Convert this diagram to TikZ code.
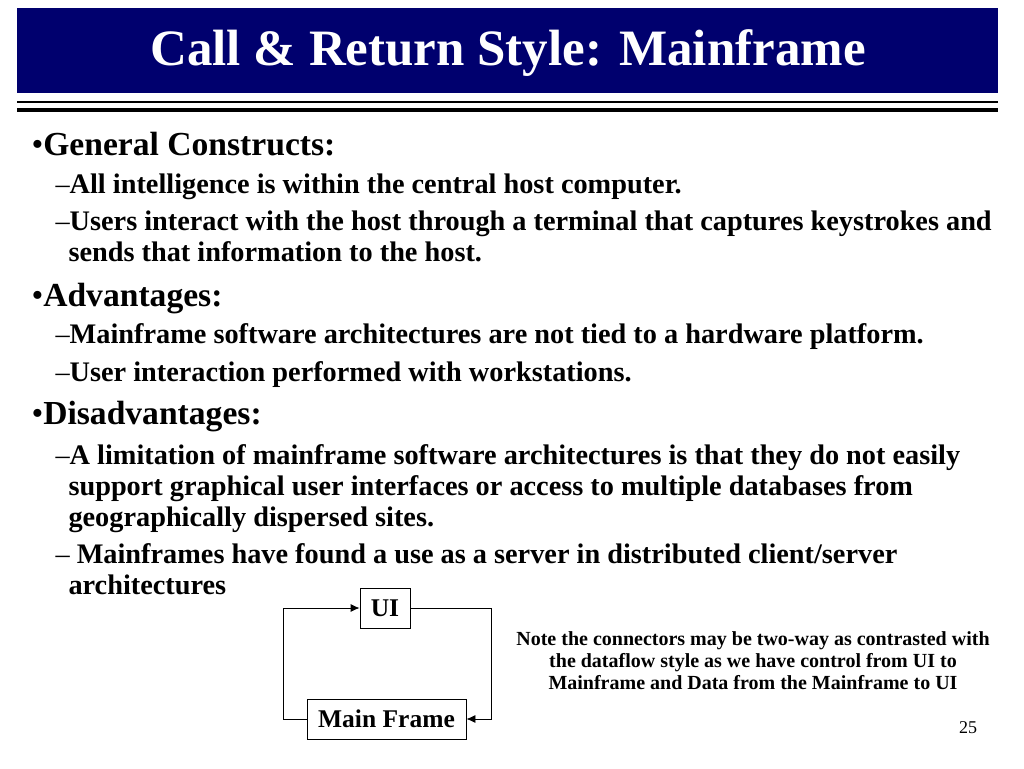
\documentclass[tikz,border=0pt]{standalone}
\usepackage{fontspec}
\setmainfont{Liberation Serif}
\usetikzlibrary{positioning,arrows.meta}
\definecolor{navy}{RGB}{0,0,110}
\begin{document}
\begin{tikzpicture}[x=1pt,y=-1pt,
    title text/.style={anchor=center,text=white,font=\fontsize{51}{53}\selectfont\bfseries},
    level one/.style={anchor=base west,font=\fontsize{33.6}{36}\selectfont\bfseries},
    level two/.style={anchor=base west,font=\fontsize{28.3}{30}\selectfont\bfseries},
    box/.style={rectangle,draw,thick,inner sep=0pt,font=\fontsize{25.5}{27}\selectfont\bfseries},
    note/.style={align=center,font=\fontsize{20}{22}\selectfont\bfseries},
    link/.style={thick,-{Latex[length=9pt,width=8pt]}}
  ]
  \useasboundingbox (0,0) rectangle (1024,768);
  % Title bar
  \fill[navy] (17,8) rectangle (998,93);
  \node[title text] (title) at (508,53) {Call \& Return Style: Mainframe};
  \draw[line width=1.2pt] (17,102) -- (998,102);
  \draw[line width=4pt] (17,110) -- (998,110);

  % Bullets
  \node[level one] (gc) at (28,155) {{\mdseries\textbullet}General Constructs:};
  \node[level two] (gc1) at (52,193) {{\mdseries\textendash}All intelligence is within the central host computer.};
  \node[level two] (gc2) at (52,230) {{\mdseries\textendash}Users interact with the host through a terminal that captures keystrokes and};
  \node[level two] (gc2b) at (65,261) {sends that information to the host.};
  \node[level one] (adv) at (28,306) {{\mdseries\textbullet}Advantages:};
  \node[level two] (adv1) at (52,343) {{\mdseries\textendash}Mainframe software architectures are not tied to a hardware platform.};
  \node[level two] (adv2) at (52,381) {{\mdseries\textendash}User interaction performed with workstations.};
  \node[level one] (dis) at (28,424) {{\mdseries\textbullet}Disadvantages:};
  \node[level two] (dis1) at (52,464) {{\mdseries\textendash}A limitation of mainframe software architectures is that they do not easily};
  \node[level two] (dis1b) at (65,495) {support graphical user interfaces or access to multiple databases from};
  \node[level two] (dis1c) at (65,526) {geographically dispersed sites.};
  \node[level two] (dis2) at (52,563) {{\mdseries\textendash} Mainframes have found a use as a server in distributed client/server};
  \node[level two] (dis2b) at (65,594) {architectures};

  % Diagram
  \node[box,minimum width=50pt,minimum height=40pt] (ui) at (385,608) {UI};
  \node[box,minimum width=159pt,minimum height=40pt] (mf) at (386.5,719) {Main Frame};
  \coordinate (left) at (283,0);
  \coordinate (right) at (491,0);
  \draw[link] (mf.west) -- (mf.west -| left) -- (ui.west -| left) -- (ui.west);
  \draw[link] (ui.east) -- (ui.east -| right) -- (mf.east -| right) -- (mf.east);

  \node[note] (nt) at (753,661) {Note the connectors may be two-way as contrasted with\\the dataflow style as we have control from UI to\\Mainframe and Data from the Mainframe to UI};
  \node[anchor=base,font=\fontsize{18}{20}\selectfont] (page) at (968,733) {25};
\end{tikzpicture}
\end{document}
